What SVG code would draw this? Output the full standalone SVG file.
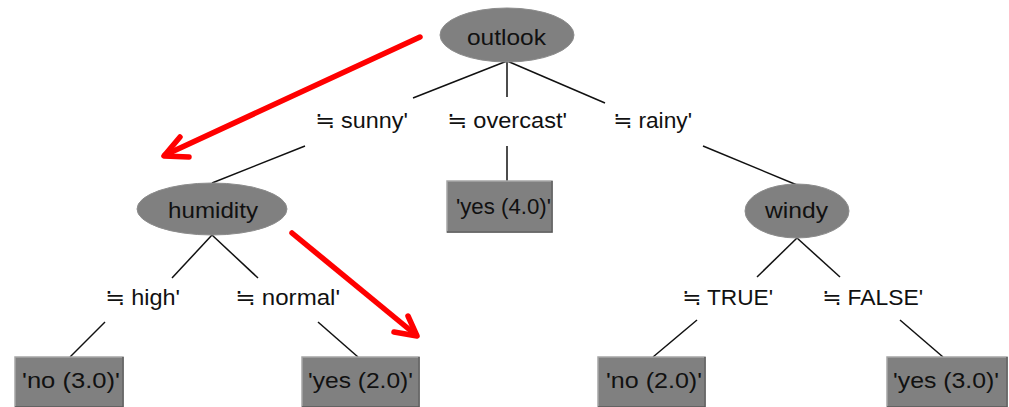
<svg xmlns="http://www.w3.org/2000/svg" width="1009" height="407" viewBox="0 0 1009 407">
<style>
.bg{fill:#ffffff}
.ell{fill:#808080;stroke:#8c8c8c;stroke-width:1}
.box{fill:#808080;stroke:#a6a6a6;stroke-width:1.5}
.shade{fill:none;stroke:#5a5a5a;stroke-width:1.5}
.t{font-family:"Liberation Sans",Arial,sans-serif;font-size:22.5px;fill:#111111}
.lbl{font-family:"Liberation Sans","DejaVu Sans",Arial,sans-serif;font-size:22.5px;fill:#111111}
.edge{stroke:#111111;stroke-width:1.5;fill:none}
.red{stroke:#ff0000;stroke-width:5.5;fill:none;stroke-linecap:round;stroke-linejoin:round}
</style>
<rect class="bg" x="0" y="0" width="1009" height="407"/>
<g id="connectors">
<line class="edge" x1="507" y1="61" x2="413" y2="98"/>
<line class="edge" x1="507" y1="61" x2="507" y2="97"/>
<line class="edge" x1="507" y1="61" x2="605" y2="103"/>
<line class="edge" x1="305" y1="146" x2="212" y2="183"/>
<line class="edge" x1="507" y1="146" x2="507" y2="181"/>
<line class="edge" x1="703" y1="146" x2="797" y2="185"/>
<line class="edge" x1="212" y1="235" x2="172" y2="278"/>
<line class="edge" x1="212" y1="235" x2="258" y2="278"/>
<line class="edge" x1="797" y1="238" x2="757" y2="277"/>
<line class="edge" x1="797" y1="238" x2="840" y2="277"/>
<line class="edge" x1="105" y1="322" x2="70" y2="357"/>
<line class="edge" x1="318" y1="322" x2="358" y2="357"/>
<line class="edge" x1="697" y1="320" x2="653" y2="357"/>
<line class="edge" x1="900" y1="320" x2="943" y2="357"/>
</g>
<g id="labels">
<text class="lbl" x="315" y="128" textLength="93" lengthAdjust="spacingAndGlyphs">≒ sunny'</text>
<text class="lbl" x="447" y="128" textLength="120" lengthAdjust="spacingAndGlyphs">≒ overcast'</text>
<text class="lbl" x="613" y="128" textLength="79" lengthAdjust="spacingAndGlyphs">≒ rainy'</text>
<text class="lbl" x="105" y="305" textLength="75" lengthAdjust="spacingAndGlyphs">≒ high'</text>
<text class="lbl" x="235" y="305" textLength="105" lengthAdjust="spacingAndGlyphs">≒ normal'</text>
<text class="lbl" x="682" y="305" textLength="91" lengthAdjust="spacingAndGlyphs">≒ TRUE'</text>
<text class="lbl" x="822" y="305" textLength="101" lengthAdjust="spacingAndGlyphs">≒ FALSE'</text>
</g>
<g id="node-outlook">
<ellipse class="ell" cx="507" cy="35" rx="67" ry="27"/>
<text class="t" x="467" y="45" textLength="79" lengthAdjust="spacingAndGlyphs">outlook</text>
</g>
<g id="node-humidity">
<ellipse class="ell" cx="212" cy="209" rx="75" ry="26"/>
<text class="t" x="168" y="218" textLength="90" lengthAdjust="spacingAndGlyphs">humidity</text>
</g>
<g id="node-windy">
<ellipse class="ell" cx="797" cy="211" rx="52" ry="27"/>
<text class="t" x="765" y="218" textLength="63" lengthAdjust="spacingAndGlyphs">windy</text>
</g>
<g id="leaf-yes-4">
<rect class="box" x="447" y="181" width="105" height="51"/>
<polyline class="shade" points="447,232 552,232 552,181"/>
<text class="t" x="456" y="214" textLength="95" lengthAdjust="spacingAndGlyphs">'yes (4.0)'</text>
</g>
<g id="leaf-no-3">
<rect class="box" x="15" y="357" width="108" height="51"/>
<polyline class="shade" points="15,407 123,407 123,357"/>
<text class="t" x="22" y="388" textLength="98" lengthAdjust="spacingAndGlyphs">'no (3.0)'</text>
</g>
<g id="leaf-yes-2">
<rect class="box" x="302" y="357" width="117" height="51"/>
<polyline class="shade" points="302,407 419,407 419,357"/>
<text class="t" x="308" y="388" textLength="105" lengthAdjust="spacingAndGlyphs">'yes (2.0)'</text>
</g>
<g id="leaf-no-2">
<rect class="box" x="598" y="357" width="107" height="51"/>
<polyline class="shade" points="598,407 705,407 705,357"/>
<text class="t" x="606" y="388" textLength="96" lengthAdjust="spacingAndGlyphs">'no (2.0)'</text>
</g>
<g id="leaf-yes-3">
<rect class="box" x="887" y="357" width="120" height="51"/>
<polyline class="shade" points="887,407 1007,407 1007,357"/>
<text class="t" x="893" y="388" textLength="106" lengthAdjust="spacingAndGlyphs">'yes (3.0)'</text>
</g>
<g id="red-arrows">
<line class="red" x1="420" y1="37" x2="165" y2="155"/>
<polyline class="red" points="180,137 164,156 189,157"/>
<line class="red" x1="292" y1="233" x2="416" y2="335"/>
<polyline class="red" points="408,316 417,336 394,332"/>
</g>
</svg>
